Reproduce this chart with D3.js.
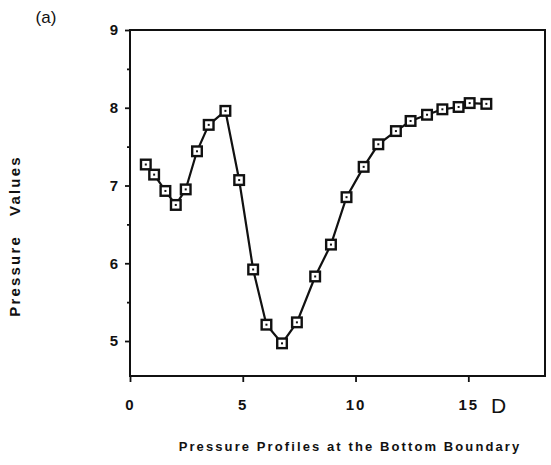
<!DOCTYPE html>
<html>
<head>
<meta charset="utf-8">
<script src="https://cdn.jsdelivr.net/npm/d3@7"></script>
<style>
body { margin: 0; background: #fff; }
svg { display: block; }
text { font-family: "Liberation Sans", Arial, sans-serif; fill: #111; }
</style>
</head>
<body>
<svg id="chart" width="551" height="465"></svg>
<script>
// values
var depth = [0.70, 1.07, 1.57, 2.03, 2.47, 2.97, 3.49, 4.23, 4.84, 5.46, 6.05, 6.74, 7.40,
             8.21, 8.91, 9.60, 10.36, 11.01, 11.79, 12.44, 13.17, 13.85, 14.57, 15.06, 15.80];
var pressure = [7.27, 7.14, 6.93, 6.75, 6.95, 7.44, 7.78, 7.96, 7.07, 5.92, 5.21, 4.97, 5.24,
                5.83, 6.24, 6.85, 7.24, 7.53, 7.70, 7.83, 7.91, 7.98, 8.01, 8.06, 8.05];
var x_ticks = [0, 5, 10, 15];
var y_ticks = [5, 6, 7, 8, 9];
var y_minor = [5.5, 6.5, 7.5, 8.5];

var chart = d3.select('#chart');
var plot_left = 130, plot_right = 545, plot_top = 30, plot_bottom = 376;

var xs = d3.scaleLinear().domain([0, 18.4]).range([plot_left, plot_right]);
var ys = d3.scaleLinear().domain([4.55, 9]).range([plot_bottom, plot_top]);

// frame
chart.append('rect')
    .attr('x', plot_left).attr('y', plot_top)
    .attr('width', plot_right - plot_left).attr('height', plot_bottom - plot_top)
    .attr('fill', 'none').attr('stroke', '#111').attr('stroke-width', 2);

// y axis
var yAxis = chart.append('g')
    .attr('transform', 'translate(' + plot_left + ',0)')
    .call(d3.axisLeft(ys).tickValues(y_ticks).tickSize(5).tickPadding(7).tickFormat(d3.format('d')));
yAxis.select('.domain').remove();
yAxis.selectAll('line').attr('stroke', '#111').attr('stroke-width', 1.8);
yAxis.selectAll('text').attr('font-size', 15).attr('font-weight', 'bold')
    .attr('font-family', '"Liberation Sans", Arial, sans-serif').style('fill', '#111');

var yMinor = chart.append('g')
    .attr('transform', 'translate(' + plot_left + ',0)')
    .call(d3.axisLeft(ys).tickValues(y_minor).tickSize(3).tickFormat(''));
yMinor.select('.domain').remove();
yMinor.selectAll('line').attr('stroke', '#111').attr('stroke-width', 1.8);

// x axis
var xAxis = chart.append('g')
    .attr('transform', 'translate(0,' + plot_bottom + ')')
    .call(d3.axisBottom(xs).tickValues(x_ticks).tickSize(6).tickPadding(17).tickFormat(d3.format('d')));
xAxis.select('.domain').remove();
xAxis.selectAll('line').attr('stroke', '#111').attr('stroke-width', 1.8);
xAxis.selectAll('text').attr('font-size', 15).attr('font-weight', 'bold')
    .attr('font-family', '"Liberation Sans", Arial, sans-serif')
    .attr('letter-spacing', 2).style('fill', '#111');

chart.append('text')
    .attr('x', 491).attr('y', 413)
    .attr('font-size', 21)
    .text('D');

// curve
var line = d3.line()
    .x(function (d, i) { return xs(depth[i]); })
    .y(function (d) { return ys(d); });

chart.append('path')
    .datum(pressure)
    .attr('d', line)
    .attr('fill', 'none')
    .attr('stroke', '#111')
    .attr('stroke-width', 2.2);

var marks = chart.selectAll('g.mark').data(pressure).enter().append('g')
    .attr('class', 'mark')
    .attr('transform', function (d, i) { return 'translate(' + xs(depth[i]) + ',' + ys(d) + ')'; });

marks.append('rect')
    .attr('x', -4.8).attr('y', -4.8)
    .attr('width', 9.6).attr('height', 9.6)
    .attr('fill', '#fff')
    .attr('stroke', '#111')
    .attr('stroke-width', 2.4);

marks.append('rect')
    .attr('x', -1).attr('y', -1)
    .attr('width', 2).attr('height', 2)
    .attr('fill', '#111');

// titles
chart.append('text')
    .attr('x', 46).attr('y', 23)
    .attr('text-anchor', 'middle')
    .attr('font-size', 17)
    .text('(a)');

chart.append('text')
    .attr('x', 350).attr('y', 451)
    .attr('text-anchor', 'middle')
    .attr('font-size', 13)
    .attr('font-weight', 'bold')
    .attr('letter-spacing', 2.1)
    .text('Pressure Profiles at the Bottom Boundary');

chart.append('text')
    .attr('transform', 'translate(20,236) rotate(-90)')
    .attr('text-anchor', 'middle')
    .attr('font-size', 15)
    .attr('font-weight', 'bold')
    .attr('letter-spacing', 2.2)
    .style('white-space', 'pre')
    .text('Pressure   Values');
</script>
</body>
</html>
